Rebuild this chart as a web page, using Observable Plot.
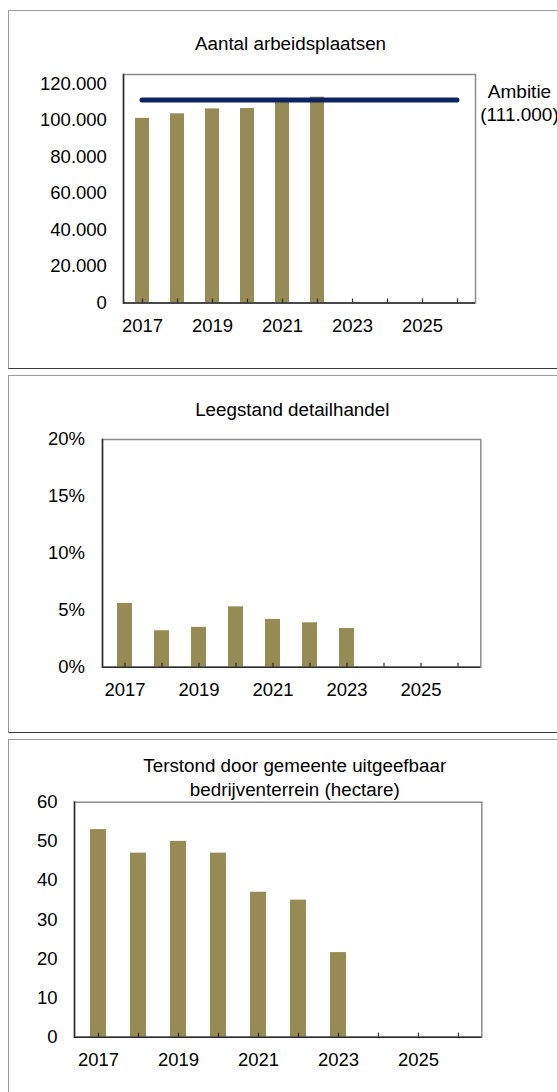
<!DOCTYPE html>
<html>
<head>
<meta charset="utf-8">
<script src="https://cdn.jsdelivr.net/npm/d3@7"></script>
<script src="https://cdn.jsdelivr.net/npm/@observablehq/plot@0.6"></script>
<style>
  html, body { margin: 0; padding: 0; width: 557px; height: 1092px; overflow: hidden; background: #fff; }
  .box { position: absolute; left: 8px; width: 700px; box-sizing: border-box;
         border-left: 1.5px solid #9a9a9a; border-top: 1.5px solid #9a9a9a; border-bottom: 1.5px solid #3a3a3a; }
  .panel { position: absolute; left: 0; }
</style>
</head>
<body>
<div class="box" style="top:10px;height:359px"></div>
<div class="box" style="top:375px;height:358px"></div>
<div class="box" style="top:739px;height:400px"></div>
<div class="panel" id="p1" style="top:0px"></div>
<div class="panel" id="p2" style="top:370px"></div>
<div class="panel" id="p3" style="top:736px"></div>
<script>
// ---- data ----
const years = [2017, 2018, 2019, 2020, 2021, 2022, 2023, 2024, 2025, 2026];

const jobsTitle = "Aantal arbeidsplaatsen";
const jobsYears = [2017, 2018, 2019, 2020, 2021, 2022];
const jobsValues = [101000, 103500, 106200, 106400, 109800, 112600];
const jobsTicks = [0, 20000, 40000, 60000, 80000, 100000, 120000];
const ambitieLabel = "Ambitie";
const ambitieValue = 111000;

const vacancyTitle = "Leegstand detailhandel";
const vacancyYears = [2017, 2018, 2019, 2020, 2021, 2022, 2023];
const vacancyValues = [0.056, 0.032, 0.035, 0.053, 0.042, 0.039, 0.034];
const vacancyTicks = [0, 0.05, 0.10, 0.15, 0.20];

const landTitle = "Terstond door gemeente uitgeefbaar\nbedrijventerrein (hectare)";
const landYears = [2017, 2018, 2019, 2020, 2021, 2022, 2023];
const landValues = [53, 47, 50, 47, 37, 35, 21.6];
const landTicks = [0, 10, 20, 30, 40, 50, 60];

// ---- styling ----
const barColor = "#968b55";
const lineColor = "#0b2361";
const font = "'Liberation Sans', Arial, sans-serif";
const nl = d => d3.format(",")(d).replace(/,/g, ".");

function makePanel({width = 557, height, mL, mR, mT, mB, xs, vs, yDomain, yTicks, yFmt, yPad,
                    title, titleDx, titleDy, titleLH = 1.25, extra = () => []}) {
  const data = xs.map((x, i) => ({year: x, value: vs[i]}));
  const frameH = height - mT - mB;
  const step = (width - mL - mR) / years.length;
  const bandwidth = step * 0.4;
  return Plot.plot({
    width, height,
    marginLeft: mL, marginRight: mR, marginTop: mT, marginBottom: mB,
    style: {fontFamily: font, fontSize: "18.5px", color: "#000", background: "none", overflow: "visible"},
    x: {type: "band", domain: years, paddingInner: 0.6, paddingOuter: 0.3,
        tickSize: 0, tickPadding: 15.5, tickFormat: d => (d % 2 === 1 ? String(d) : ""), label: null},
    y: {domain: yDomain, ticks: yTicks, tickFormat: yFmt, tickSize: 0, tickPadding: yPad, label: null},
    marks: [
      Plot.barY(data, {x: "year", y: "value", fill: barColor}),
      Plot.frame({stroke: "#8c8c8c", strokeWidth: 1.5}),
      Plot.frame({anchor: "left", stroke: "#2a2a2a", strokeWidth: 1.5}),
      Plot.ruleY([0], {stroke: "#2a2a2a", strokeWidth: 1.5}),
      Plot.ruleX(years, {x: d => d, insetTop: frameH - 4, stroke: "#2a2a2a", strokeWidth: 1.2}),
      ...extra(bandwidth),
      Plot.text([title], {text: d => d, frameAnchor: "top", lineAnchor: "middle",
                          dx: titleDx, dy: titleDy, fontSize: 18.8, lineHeight: titleLH, fill: "#000"})
    ]
  });
}

// Panel 1
const amb = [{y: ambitieValue, from: years[0], to: years[years.length - 1]}];
document.getElementById("p1").append(makePanel({
  height: 370, mL: 123, mR: 82, mT: 74, mB: 67.5,
  xs: jobsYears, vs: jobsValues, yDomain: [0, 125000], yTicks: jobsTicks, yFmt: nl, yPad: 16.6,
  title: jobsTitle, titleDx: -9, titleDy: -32,
  extra: (bw) => [
    Plot.ruleY(amb, {y: "y", x1: "from", x2: "to", insetLeft: bw / 2, insetRight: bw / 2,
                     stroke: lineColor, strokeWidth: 5, strokeLinecap: "round"}),
    Plot.text(amb, {x: "to", y: "y", text: d => ambitieLabel + "\n(" + nl(d.y) + ")",
                    dx: 62, dy: 2, lineHeight: 1.19, textAnchor: "middle", fontSize: 19, fill: "#000"})
  ]
}));

// Panel 2
document.getElementById("p2").append(makePanel({
  height: 366, mL: 102, mR: 76.7, mT: 69, mB: 69.3,
  xs: vacancyYears, vs: vacancyValues, yDomain: [0, 0.2], yTicks: vacancyTicks,
  yFmt: d => Math.round(d * 100) + "%", yPad: 17.5,
  title: vacancyTitle, titleDx: 0.6, titleDy: -31.5
}));

// Panel 3
document.getElementById("p3").append(makePanel({
  height: 356, mL: 74, mR: 75.7, mT: 65.7, mB: 55.3,
  xs: landYears, vs: landValues, yDomain: [0, 60], yTicks: landTicks,
  yFmt: d => String(d), yPad: 17,
  title: landTitle, titleDx: 16.6, titleDy: -25.7, titleLH: 1.25
}));
</script>
</body>
</html>
